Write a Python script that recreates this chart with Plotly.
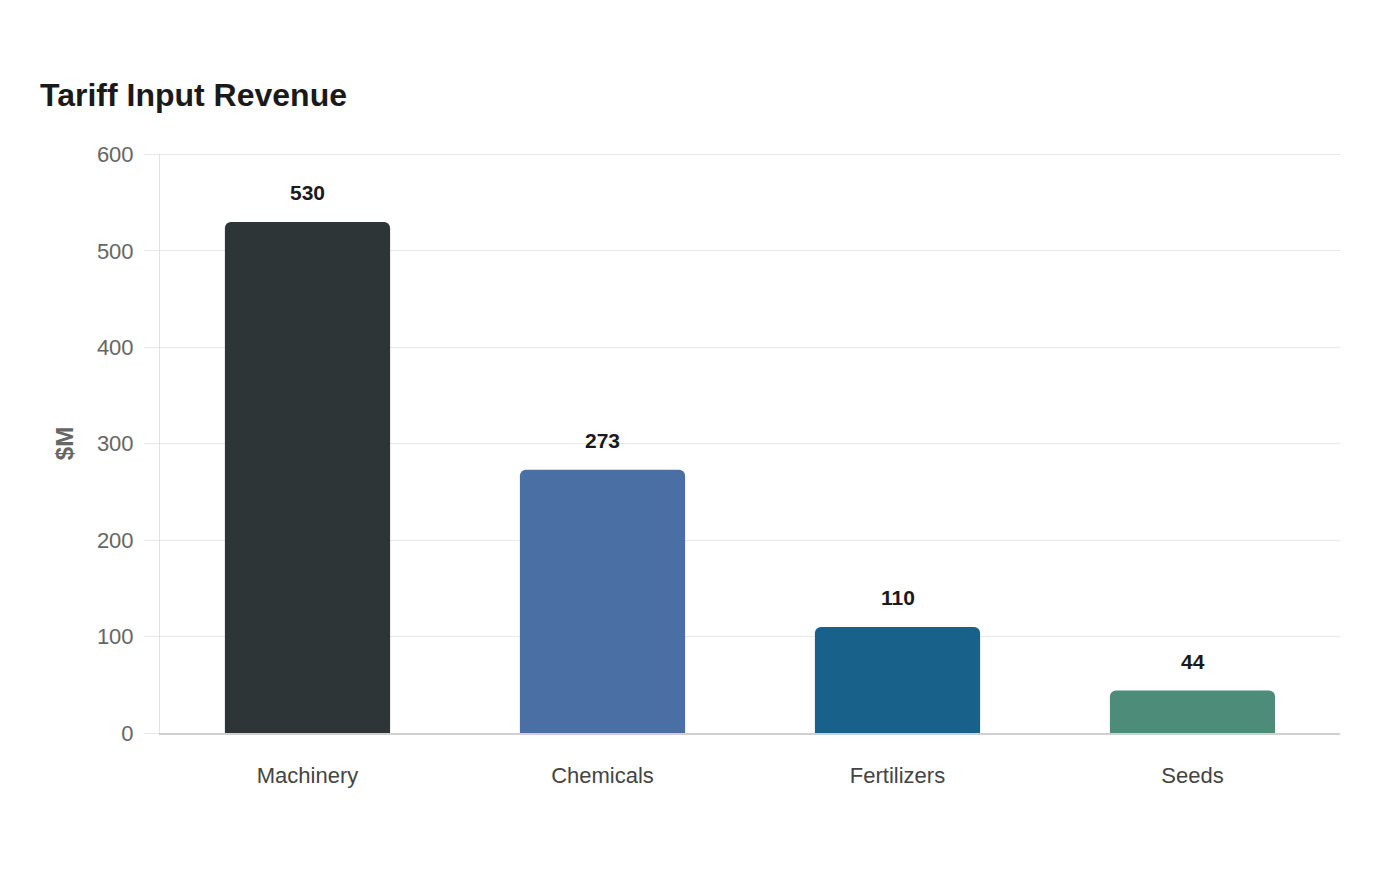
import plotly.graph_objects as go

categories = ["Machinery", "Chemicals", "Fertilizers", "Seeds"]
values = [530, 273, 110, 44]
colors = ["#2e3537", "#4a6fa5", "#18618a", "#4e8c7a"]
y_ticks = [0, 100, 200, 300, 400, 500, 600]

fig = go.Figure()
fig.add_trace(go.Bar(
    x=categories, y=values,
    marker=dict(color=colors, line=dict(width=0)),
    hoverinfo="skip",
))

for c, v in zip(categories, values):
    fig.add_annotation(
        x=c, y=v, text=f"<b>{v}</b>", showarrow=False,
        yanchor="bottom", yshift=16,
        font=dict(family="Liberation Sans, Arial, sans-serif", size=21, color="#1a1a1a"),
    )

# top gridline at the range edge
fig.add_shape(type="line", xref="paper", yref="y", x0=0, x1=1,
              y0=y_ticks[-1], y1=y_ticks[-1],
              line=dict(color="#e8e8e8", width=1), layer="below")

fig.update_layout(
    width=1400, height=880,
    margin=dict(l=160, r=60, t=154, b=147),
    paper_bgcolor="white", plot_bgcolor="white",
    font=dict(family="Liberation Sans, Arial, sans-serif"),
    title=dict(text="<b>Tariff Input Revenue</b>", x=40/1400, xref="container", xanchor="left",
               y=1 - 95/880, yref="container", yanchor="middle",
               font=dict(size=32, color="#1a1a1a")),
    bargap=0.44,
    barcornerradius=6,
    showlegend=False,
)

fig.update_yaxes(
    range=[0, 600.5], tickvals=y_ticks,
    showgrid=True, gridcolor="#e8e8e8", gridwidth=1,
    ticks="outside", ticklen=15, tickcolor="#e8e8e8",
    showline=True, linecolor="#e2e2e2", linewidth=1,
    zeroline=False, ticklabelstandoff=6,
    tickfont=dict(size=22, color="#666666"),
    title=dict(text="<b>$M</b>", font=dict(size=24, color="#666666"), standoff=16),
)
fig.update_xaxes(
    showline=True, linecolor="#d0d0d0", linewidth=2,
    ticks="", ticklabelstandoff=22, tickfont=dict(size=22, color="#444444"),
)

fig.write_html("out.html")
